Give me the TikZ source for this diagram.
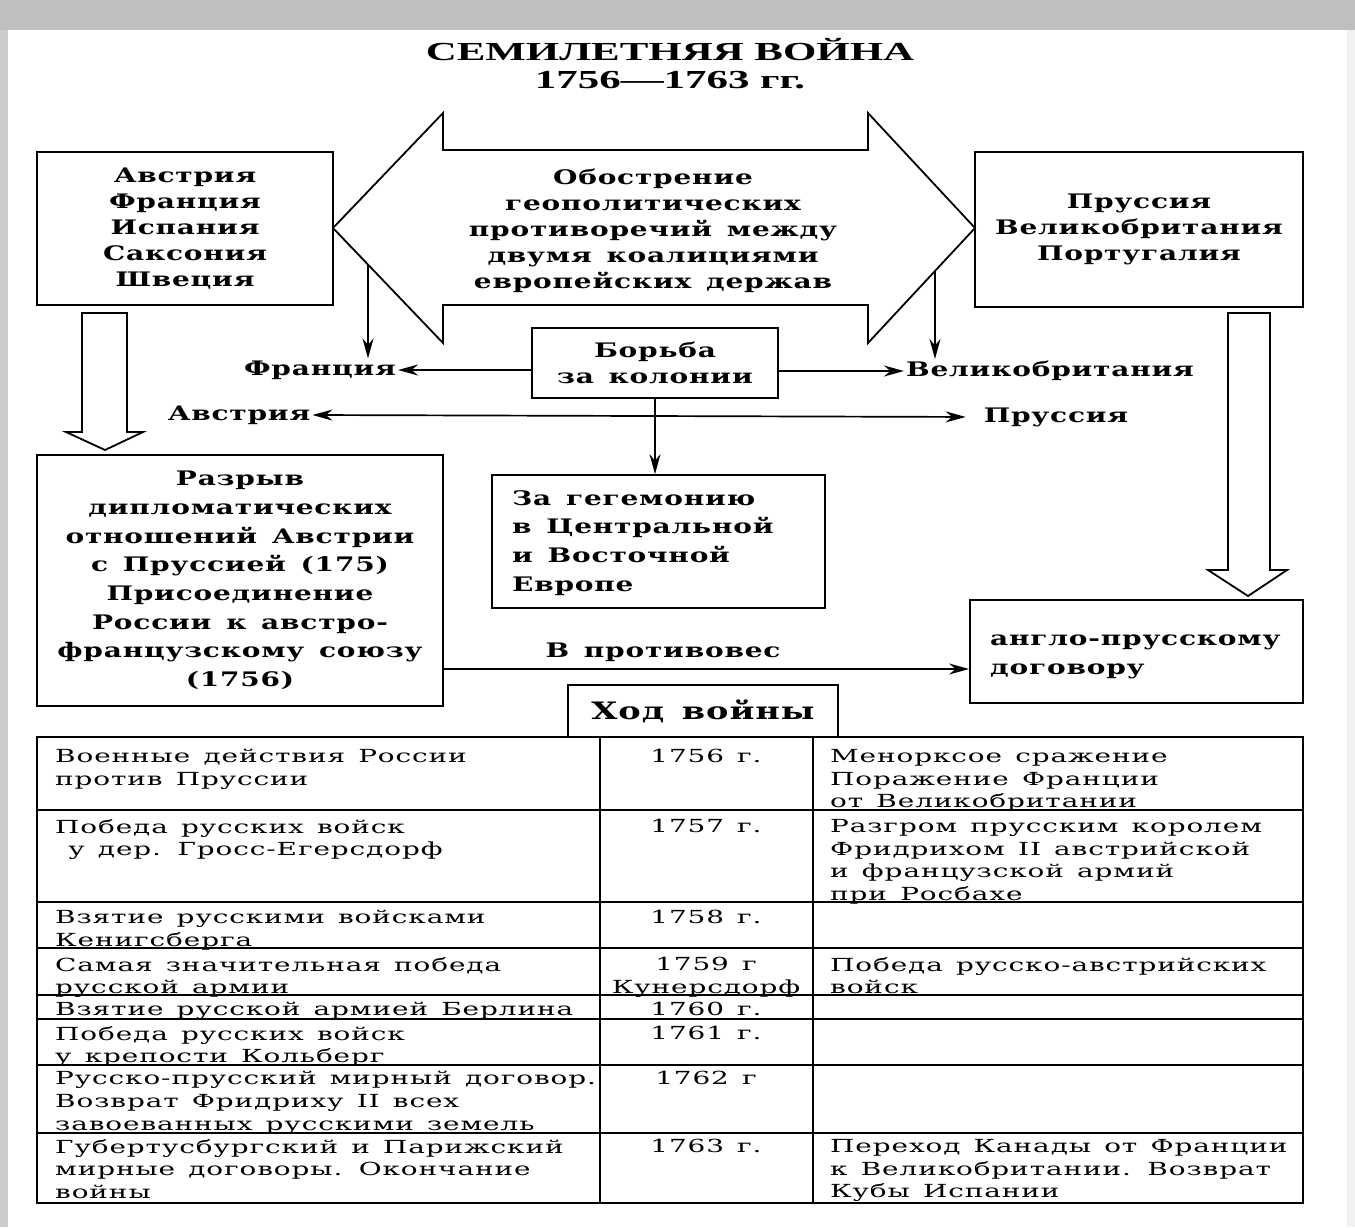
\documentclass[tikz,border=0pt]{standalone}
\usepackage{fontspec}
\setmainfont{DejaVu Serif}
\newfontfamily\bodyfont[FakeStretch=1.4,LetterSpace=4,WordSpace=1.4]{DejaVu Serif}
\newfontfamily\tabfont[FakeStretch=1.55,LetterSpace=5,WordSpace=1.35]{DejaVu Serif}
\newfontfamily\titlefont[FakeStretch=1.65]{Liberation Serif}
\usetikzlibrary{arrows.meta}
\begin{document}
\begin{tikzpicture}[x=1pt,y=-1pt,
  box/.style={draw,line width=1.8pt,inner sep=0pt},
  topt/.style={font=\bodyfont\bfseries\fontsize{20}{26}\selectfont,align=center},
  midt/.style={font=\bodyfont\bfseries\fontsize{20}{28.7}\selectfont},
  lab/.style={font=\bodyfont\bfseries\fontsize{20}{26}\selectfont,inner sep=2pt},
  cell/.style={font=\tabfont\fontsize{18}{22.8}\selectfont,align=left,anchor=north west,inner sep=0pt},
  yr/.style={font=\tabfont\fontsize{18}{22.8}\selectfont,align=center,anchor=north,inner sep=0pt},
  arr/.style={line width=1.7pt,-{Stealth[length=20pt,width=11pt]}},
  hollow/.style={draw,line width=1.8pt,fill=white,line join=miter}]
\useasboundingbox (0,0) rectangle (1355,1227);
\fill[white] (0,0) rectangle (1355,1227);
\fill[gray!50] (0,0) rectangle (1355,30);
\fill[gray!40] (0,30) rectangle (8,1227);
\fill[gray!10] (1347,30) rectangle (1355,1227);

% title
\node[font=\titlefont\bfseries\fontsize{26}{28}\selectfont,align=center,inner sep=0pt] (title) at (670,64) {СЕМИЛЕТНЯЯ ВОЙНА\\1756—1763 гг.};

% left coalition box
\node[box,topt,minimum width=296pt,minimum height=153pt] (aus) at (185,228.5) {Австрия\\Франция\\Испания\\Саксония\\Швеция};
% right coalition box
\node[box,topt,minimum width=328pt,minimum height=155pt] (pru) at (1139,229.5) {Пруссия\\Великобритания\\Португалия};

% big double arrow
\draw[hollow] (333,228) -- (443,113) -- (443,150) -- (868,150) -- (868,113) -- (975,228)
  -- (868,343) -- (868,305) -- (443,305) -- (443,343) -- cycle;
\node[topt] (geo) at (653,231) {Обострение\\геополитических\\противоречий между\\двумя коалициями\\европейских держав};
\coordinate (dl) at (368,265);
\coordinate (dr) at (935,271);

% colonies box
\node[box,topt,minimum width=246pt,minimum height=70pt] (bor) at (655,363) {Борьба\\за колонии};
\node[lab] (fra) at (320,370) {Франция};
\node[lab] (gb) at (1050,371) {Великобритания};
\node[lab] (avs) at (239,415) {Австрия};
\node[lab] (prs) at (1056,417) {Пруссия};

\draw[arr] (dl) -- (dl |- fra.north);
\draw[arr] (dr) -- (dr |- gb.north);
\draw[arr] (bor.west |- fra.east) -- (fra.east);
\draw[arr] (bor.east |- gb.west) -- (gb.west);
\draw[line width=1.7pt,{Stealth[length=20pt,width=11pt]}-{Stealth[length=20pt,width=11pt]},shorten >=16pt] (avs.east) -- (prs.west);

% hegemony box
\node[box,minimum width=333pt,minimum height=133pt] (heg) at (658.5,541.5) {};
\node[midt,align=left,anchor=north west,inner sep=0pt] (hegt) at (512,490) {За гегемонию\\в Центральной\\и Восточной\\Европе};
\draw[arr] (bor.south) -- (bor.south |- heg.north);

% hollow arrows
\draw[hollow] (82,313) -- (82,432) -- (66,432) -- (105,450) -- (143,432) -- (127,432) -- (127,313) -- cycle;
\draw[hollow] (1228,313) -- (1228,570) -- (1208,570) -- (1248,596) -- (1287,570) -- (1270,570) -- (1270,313) -- cycle;

% rupture box
\node[box,midt,align=center,minimum width=406pt,minimum height=251pt] (raz) at (240,580.5)
  {Разрыв\\дипломатических\\отношений Австрии\\с Пруссией (175)\\Присоединение\\России к австро-\\французскому союзу\\(1756)};
% anglo-prussian box
\node[box,minimum width=333pt,minimum height=103pt] (ang) at (1136.5,651.5) {};
\node[midt,align=left,anchor=north west,inner sep=0pt] (angt) at (990,635) {англо-прусскому\\договору};
\coordinate (p1) at (443,669);
\draw[arr] (p1) -- (p1 -| ang.west);
\node[midt,inner sep=0pt] (protiv) at (663,652) {В противовес};

% course of war
\node[box,font=\bodyfont\bfseries\fontsize{24}{28}\selectfont,minimum width=270pt,minimum height=52pt] (hod) at (703,711) {Ход войны};

% table
\draw[line width=1.8pt] (37,737) rectangle (1303,1203);
\foreach \yy in {810,902,948,995,1019,1065,1133} \draw[line width=1.8pt] (37,\yy) -- (1303,\yy);
\draw[line width=1.8pt] (600,737) -- (600,1203);
\draw[line width=1.8pt] (813,737) -- (813,1203);

\node[cell] (a1) at (55,749) {Военные действия России\\против Пруссии};
\node[yr] (b1) at (706,749) {1756 г.};
\node[cell] (c1) at (830,749) {Менорксое сражение\\Поражение Франции\\от Великобритании};

\node[cell] (a2) at (55,819) {Победа русских войск\\\ у дер. Гросс-Егерсдорф};
\node[yr] (b2) at (706,819) {1757 г.};
\node[cell] (c2) at (830,819) {Разгром прусским королем\\Фридрихом II австрийской\\и французской армий\\при Росбахе};

\node[cell] (a3) at (55,910) {Взятие русскими войсками\\Кенигсберга};
\node[yr] (b3) at (706,910) {1758 г.};

\node[cell] (a4) at (55,957) {Самая значительная победа\\русской армии};
\node[yr] (b4) at (706,957) {1759 г\\Кунерсдорф};
\node[cell] (c4) at (830,957) {Победа русско-австрийских\\войск};

\node[cell] (a5) at (55,1002) {Взятие русской армией Берлина};
\node[yr] (b5) at (706,1002) {1760 г.};

\node[cell] (a6) at (55,1026) {Победа русских войск\\у крепости Кольберг};
\node[yr] (b6) at (706,1026) {1761 г.};

\node[cell] (a7) at (55,1071) {Русско-прусский мирный договор.\\Возврат Фридриху II всех\\завоеванных русскими земель};
\node[yr] (b7) at (706,1071) {1762 г};

\node[cell] (a8) at (55,1139) {Губертусбургский и Парижский\\мирные договоры. Окончание\\войны};
\node[yr] (b8) at (706,1139) {1763 г.};
\node[cell] (c8) at (830,1139) {Переход Канады от Франции\\к Великобритании. Возврат\\Кубы Испании};
\end{tikzpicture}
\end{document}
